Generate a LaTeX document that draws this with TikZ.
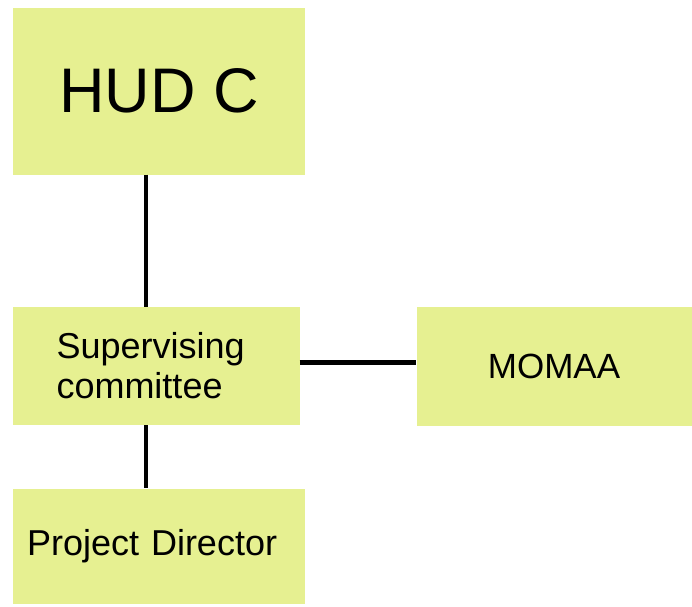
\documentclass[tikz,border=0pt]{standalone}
\usepackage{fontspec}
\setmainfont{Liberation Sans}
\usepackage{tikz}
\definecolor{boxgreen}{RGB}{230,240,145}

\begin{document}
\begin{tikzpicture}[x=1pt,y=-1pt,
	unit/.style={fill=boxgreen,inner sep=0pt,font=\fontsize{36}{40}\selectfont},
	link/.style={line width=4pt,black}]
	\useasboundingbox (0,0) rectangle (692,606);
	\node[unit,minimum width=292pt,minimum height=167pt,font=\fontsize{63}{70}\selectfont] (hud) at (159,91) {HUD C};
	\node[unit,minimum width=287pt,minimum height=118pt,text width=199pt,align=left] (sup) at (156,366) {Supervising\\committee};
	\node[unit,minimum width=275pt,minimum height=119pt,font=\fontsize{35}{40}\selectfont] (momaa) at (554,366) {MOMAA};
	\node[unit,minimum width=292pt,minimum height=115pt,text width=264pt,align=left] (pd) at (159,546) {Project Director};
	\coordinate (spine) at (146,0);
	\draw[link] (hud.south -| spine) -- (sup.north -| spine);
	\draw[link] (sup.south -| spine) -- (pd.north -| spine);
	\draw[link,line width=5pt] ([yshift=4pt]sup.east) -- ([yshift=4pt]momaa.west |- sup.east);
\end{tikzpicture}
\end{document}
